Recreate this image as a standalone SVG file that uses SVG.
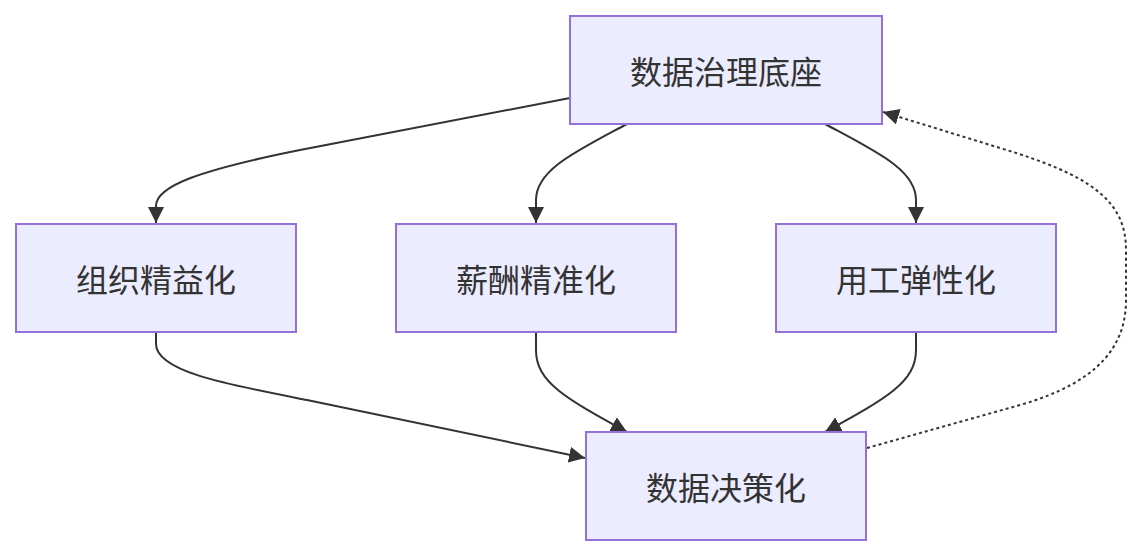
<svg xmlns="http://www.w3.org/2000/svg" width="1142" height="556" viewBox="0 0 1142 556">
<style>
.node rect{fill:#ECECFF;stroke:#9370DB;stroke-width:2}
.node text{font-family:"Noto Sans CJK SC","Noto Sans",sans-serif;font-size:32px;fill:#333;text-anchor:middle;dominant-baseline:central}
.edge{fill:none;stroke:#333;stroke-width:2}
.dotted{stroke-dasharray:3 3}
</style>
<defs>
<marker id="arrow" viewBox="0 0 10 10" refX="10" refY="5" markerUnits="userSpaceOnUse" markerWidth="16" markerHeight="16" orient="auto">
<path d="M0,0 L10,5 L0,10 z" fill="#333"/>
</marker>
</defs>
<rect width="1142" height="556" fill="#fff"/>
<g id="connectors">
<path class="edge" d="M570,98 L300,150 C200,170 156,186 156,206 L156,223" marker-end="url(#arrow)"/>
<path class="edge" d="M627,124 C575,152 536,170 536,200 L536,223" marker-end="url(#arrow)"/>
<path class="edge" d="M825,124 C877,152 916,170 916,200 L916,223" marker-end="url(#arrow)"/>
<path class="edge" d="M156,332 L156,344 C156,372 230,385 307,400 L585,458" marker-end="url(#arrow)"/>
<path class="edge" d="M536,332 L536,350 C536,382 565,398 627,432" marker-end="url(#arrow)"/>
<path class="edge" d="M916,332 L916,350 C916,382 887,398 825,432" marker-end="url(#arrow)"/>
<path class="edge dotted" d="M867,448 L1020,405 C1100,382 1126,345 1126,300 L1126,250 C1126,200 1090,175 1000,148 L883,112" marker-end="url(#arrow)"/>
</g>
<g id="node-top" class="node"><rect x="570" y="16" width="312" height="108"/><text x="726" y="70">数据治理底座</text></g>
<g id="node-left" class="node"><rect x="16" y="224" width="280" height="108"/><text x="156" y="278">组织精益化</text></g>
<g id="node-mid" class="node"><rect x="396" y="224" width="280" height="108"/><text x="536" y="278">薪酬精准化</text></g>
<g id="node-right" class="node"><rect x="776" y="224" width="280" height="108"/><text x="916" y="278">用工弹性化</text></g>
<g id="node-bottom" class="node"><rect x="586" y="432" width="280" height="108"/><text x="726" y="486">数据决策化</text></g>
</svg>
